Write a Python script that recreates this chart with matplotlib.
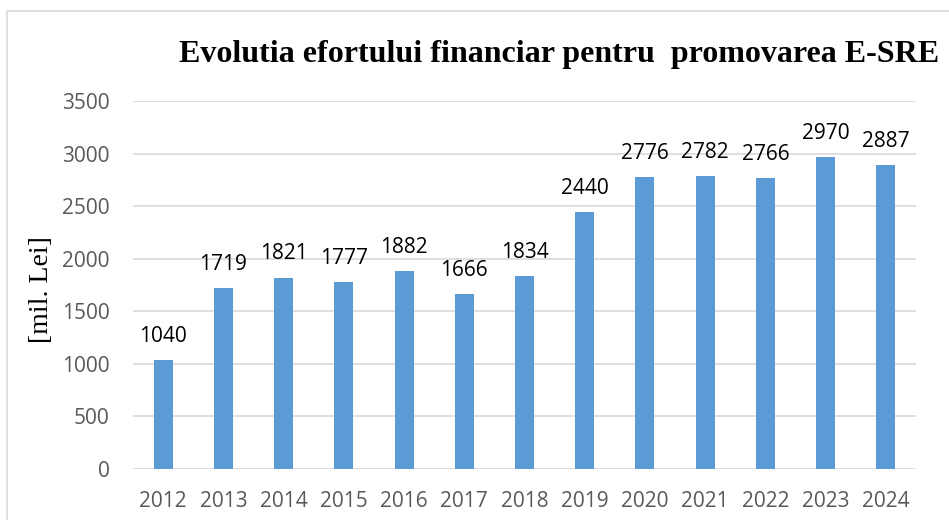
import matplotlib.pyplot as plt
from matplotlib.patches import Rectangle

years = ['2012', '2013', '2014', '2015', '2016', '2017', '2018',
         '2019', '2020', '2021', '2022', '2023', '2024']
values = [1040, 1719, 1821, 1777, 1882, 1666, 1834,
          2440, 2776, 2782, 2766, 2970, 2887]
yticks = [0, 500, 1000, 1500, 2000, 2500, 3000, 3500]

fig = plt.figure(figsize=(9.49, 5.2), dpi=100)
ax = fig.add_axes([133 / 949, 1 - 469 / 520, (916 - 133) / 949, (469 - 101) / 520])

# light border around the chart area
fig.patches.append(Rectangle((7 / 949, -0.1), 1.2, 1 - 11 / 520 + 0.1,
                             transform=fig.transFigure, fill=False,
                             edgecolor='#d9d9d9', linewidth=1.2))

x = range(len(years))
bars = ax.bar(x, values, width=0.315, color='#5b9bd5', zorder=3)
for xi, v in zip(x, values):
    ax.annotate(str(v), (xi, v), xytext=(0, 13), textcoords='offset points',
                ha='center', va='baseline', fontsize=15, family='Open Sans',
                color='black')

ax.set_xlim(-0.5, len(years) - 0.5)
ax.set_ylim(0, 3500)
ax.set_yticks(yticks)
ax.set_xticks(list(x))
ax.set_xticklabels(years)
ax.tick_params(length=0, labelsize=15, labelcolor='#595959')
ax.tick_params(axis='x', pad=16)
ax.tick_params(axis='y', pad=17)
for lbl in ax.get_xticklabels() + ax.get_yticklabels():
    lbl.set_family('Open Sans')

ax.grid(axis='y', color='#d9d9d9', linewidth=1.2, zorder=0)
for s in ax.spines.values():
    s.set_visible(False)

fig.text(41 / 949, 1 - 290 / 520, '[mil. Lei]', rotation=90, ha='center', va='center',
         family='Liberation Serif', fontsize=20)
fig.text(559 / 949, 1 - 62 / 520, 'Evolutia efortului financiar pentru  promovarea E-SRE',
         ha='center', va='baseline', family='Liberation Serif', fontweight='bold',
         fontsize=23)

fig.savefig('out.png', dpi=100)
